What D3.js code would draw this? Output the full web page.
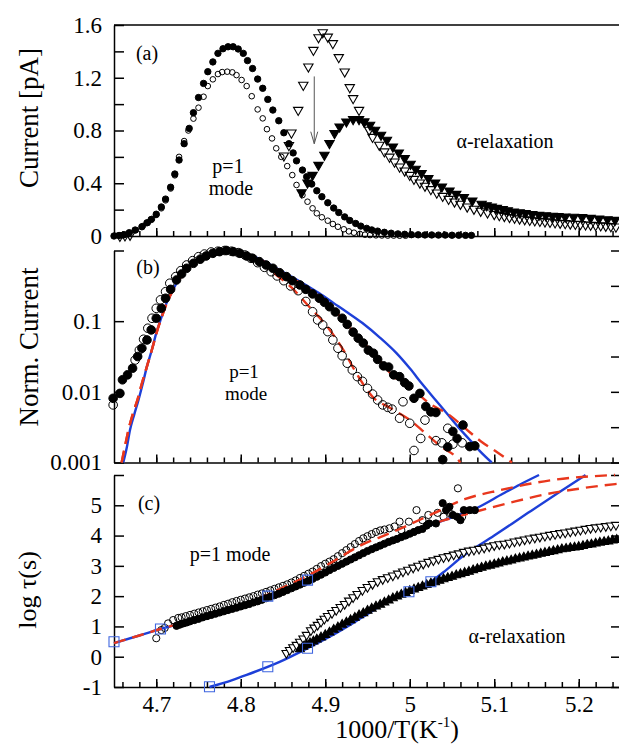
<!DOCTYPE html>
<html>
<head>
<meta charset="utf-8">
<script src="https://cdnjs.cloudflare.com/ajax/libs/d3/7.8.5/d3.min.js"></script>
<style>
  body { margin: 0; background: #fff; }
  text { font-family: "Liberation Serif", "Times New Roman", serif; fill: #000; }
</style>
</head>
<body>
<div id="chart"></div>
<script>
// shared x axis: 1000/T
var xTicks = [4.7, 4.8, 4.9, 5.0, 5.1, 5.2];
var xTickLabels = ["4.7", "4.8", "4.9", "5", "5.1", "5.2"];

// ---- panel (a): current [pA] ----
var aTicks = [0, 0.2, 0.4, 0.6, 0.8, 1.0, 1.2, 1.4, 1.6];
var aTickLabels = ["0", "", "0.4", "", "0.8", "", "1.2", "", "1.6"];

var aFilledCircles = [[4.650,0.000],[4.656,0.004],[4.662,0.010],[4.668,0.025],[4.675,0.045],[4.683,0.070],[4.689,0.100],[4.694,0.125],[4.700,0.165],[4.706,0.220],[4.711,0.280],[4.717,0.370],[4.722,0.470],[4.727,0.576],[4.733,0.700],[4.739,0.816],[4.744,0.935],[4.750,1.050],[4.756,1.157],[4.761,1.246],[4.767,1.320],[4.773,1.385],[4.779,1.420],[4.785,1.435],[4.791,1.435],[4.797,1.418],[4.803,1.385],[4.808,1.330],[4.814,1.270],[4.820,1.190],[4.826,1.120],[4.832,1.036],[4.838,0.955],[4.845,0.874],[4.851,0.783],[4.857,0.700],[4.862,0.630],[4.866,0.570],[4.873,0.500],[4.878,0.450],[4.884,0.394],[4.890,0.343],[4.896,0.298],[4.903,0.252],[4.910,0.212],[4.916,0.178],[4.923,0.145],[4.929,0.118],[4.936,0.095],[4.942,0.075],[4.949,0.058],[4.955,0.046],[4.962,0.037],[4.970,0.028],[4.978,0.021],[4.986,0.016],[4.994,0.013],[5.002,0.010],[5.010,0.009],[5.018,0.008],[5.026,0.008],[5.034,0.007],[5.042,0.007],[5.050,0.006],[5.058,0.006],[5.066,0.005],[5.073,0.005]];

var aOpenCircles = [[4.660,0.005],[4.668,0.020],[4.676,0.045],[4.684,0.075],[4.690,0.100],[4.695,0.130],[4.700,0.160],[4.706,0.210],[4.711,0.270],[4.717,0.360],[4.722,0.460],[4.727,0.600],[4.733,0.720],[4.738,0.800],[4.744,0.890],[4.750,0.973],[4.756,1.056],[4.761,1.137],[4.767,1.188],[4.773,1.228],[4.778,1.243],[4.784,1.246],[4.790,1.241],[4.795,1.220],[4.801,1.183],[4.807,1.137],[4.813,1.060],[4.820,0.960],[4.826,0.892],[4.831,0.810],[4.837,0.740],[4.842,0.665],[4.848,0.600],[4.855,0.530],[4.861,0.462],[4.866,0.387],[4.873,0.310],[4.879,0.260],[4.885,0.210],[4.890,0.172],[4.896,0.142],[4.903,0.116],[4.909,0.091],[4.915,0.070],[4.922,0.051],[4.928,0.035],[4.934,0.025],[4.941,0.016],[4.947,0.010],[4.953,0.007],[4.960,0.005],[4.967,0.004],[4.974,0.003],[4.981,0.003],[4.988,0.002],[4.995,0.002]];

var aOpenTriangles = [[4.657,0.000],[4.663,0.003],[4.669,0.008],[4.851,0.609],[4.857,0.688],[4.860,0.783],[4.868,0.955],[4.874,1.145],[4.880,1.284],[4.886,1.410],[4.892,1.506],[4.897,1.544],[4.903,1.510],[4.909,1.461],[4.916,1.355],[4.923,1.246],[4.929,1.127],[4.933,1.044],[4.940,0.955],[4.946,0.867],[4.952,0.804],[4.956,0.750],[4.964,0.690],[4.970,0.640],[4.976,0.600],[4.982,0.563],[4.988,0.525],[4.994,0.495],[5.000,0.462],[5.005,0.432],[5.012,0.404],[5.018,0.380],[5.025,0.354],[5.032,0.328],[5.039,0.303],[5.046,0.280],[5.053,0.260],[5.060,0.243],[5.068,0.222],[5.076,0.205],[5.084,0.190],[5.092,0.177],[5.100,0.165],[5.106,0.157],[5.112,0.150],[5.118,0.143],[5.124,0.137],[5.130,0.131],[5.136,0.126],[5.142,0.121],[5.148,0.117],[5.154,0.113],[5.160,0.109],[5.166,0.106],[5.172,0.102],[5.178,0.099],[5.184,0.096],[5.190,0.093],[5.196,0.091],[5.202,0.089],[5.208,0.086],[5.214,0.084],[5.220,0.081],[5.226,0.079],[5.232,0.076],[5.238,0.073],[5.244,0.070]];

var aFilledTriangles = [[4.872,0.330],[4.879,0.404],[4.885,0.462],[4.892,0.538],[4.899,0.614],[4.905,0.703],[4.911,0.779],[4.917,0.829],[4.925,0.867],[4.933,0.885],[4.940,0.885],[4.946,0.867],[4.953,0.842],[4.959,0.804],[4.966,0.766],[4.973,0.728],[4.980,0.677],[4.987,0.632],[4.994,0.589],[5.001,0.546],[5.007,0.508],[5.014,0.475],[5.022,0.437],[5.030,0.404],[5.038,0.374],[5.047,0.343],[5.055,0.318],[5.064,0.293],[5.074,0.268],[5.085,0.243],[5.091,0.232],[5.097,0.222],[5.103,0.212],[5.110,0.202],[5.116,0.193],[5.123,0.184],[5.130,0.178],[5.137,0.172],[5.145,0.165],[5.153,0.159],[5.161,0.155],[5.169,0.152],[5.176,0.149],[5.184,0.146],[5.194,0.144],[5.204,0.142],[5.214,0.136],[5.224,0.131],[5.234,0.126],[5.243,0.121]];

// arrow between the two alpha peaks (x, current)
var aArrow = [[4.887, 1.21], [4.887, 0.70]];

// ---- panel (b): normalised current (log) ----
var bTicks = [0.001, 0.01, 0.1, 1];
var bTickLabels = ["0.001", "0.01", "0.1", ""];
var bRightTicks = [0.001, 0.00316, 0.01, 0.0316, 0.1, 0.316, 1];

var bFilledCircles = [[4.649,0.0081],[4.657,0.0095],[4.660,0.0148],[4.666,0.0174],[4.672,0.0216],[4.678,0.0316],[4.683,0.0414],[4.689,0.0542],[4.694,0.0752],[4.700,0.110],[4.706,0.152],[4.711,0.211],[4.717,0.282],[4.724,0.383],[4.730,0.466],[4.736,0.560],[4.744,0.659],[4.752,0.752],[4.759,0.836],[4.767,0.912],[4.775,0.964],[4.783,1.0],[4.791,0.964],[4.799,0.912],[4.807,0.836],[4.814,0.776],[4.822,0.695],[4.830,0.624],[4.838,0.560],[4.846,0.485],[4.854,0.427],[4.861,0.374],[4.870,0.325],[4.877,0.282],[4.885,0.243],[4.893,0.211],[4.899,0.185],[4.905,0.160],[4.912,0.135],[4.920,0.110],[4.926,0.090],[4.933,0.0700],[4.939,0.0575],[4.945,0.049],[4.951,0.0389],[4.957,0.0352],[4.962,0.0288],[4.969,0.0233],[4.975,0.0224],[4.981,0.0174],[4.988,0.0164],[4.994,0.0135],[4.999,0.0121],[5.005,0.0081],[5.012,0.0095],[5.019,0.0062],[5.025,0.0052],[5.031,0.0051],[5.039,0.0011],[5.045,0.00166],[5.051,0.00275],[5.056,0.00219],[5.063,0.00339],[5.071,0.00168],[5.077,0.00172]];

var bOpenCircles = [[4.649,0.00653],[4.675,0.0282],[4.680,0.0389],[4.685,0.0555],[4.690,0.0794],[4.695,0.110],[4.700,0.152],[4.705,0.200],[4.711,0.261],[4.716,0.344],[4.723,0.427],[4.729,0.518],[4.736,0.624],[4.743,0.718],[4.750,0.817],[4.757,0.891],[4.765,0.953],[4.773,0.977],[4.781,1.0],[4.789,0.977],[4.797,0.933],[4.805,0.863],[4.812,0.776],[4.820,0.673],[4.828,0.578],[4.836,0.501],[4.843,0.437],[4.851,0.374],[4.859,0.315],[4.868,0.270],[4.877,0.190],[4.885,0.136],[4.891,0.104],[4.897,0.0883],[4.903,0.0711],[4.909,0.0542],[4.915,0.0414],[4.920,0.0324],[4.926,0.0254],[4.932,0.0204],[4.938,0.0164],[4.944,0.0141],[4.950,0.0112],[4.956,0.0093],[4.962,0.00767],[4.968,0.00653],[4.974,0.00603],[4.979,0.00569],[4.988,0.00423],[4.992,0.00724],[5.000,0.00359],[5.005,0.00148],[5.013,0.00219],[5.018,0.00398],[5.031,0.00204],[5.038,0.0019],[5.045,0.00305],[5.051,0.00182],[5.062,0.0019]];

var bBlueFit = [[4.661,0.001],[4.665,0.0016],[4.669,0.0029],[4.674,0.0048],[4.679,0.0077],[4.684,0.0130],[4.689,0.0229],[4.695,0.040],[4.700,0.0676],[4.706,0.112],[4.712,0.179],[4.718,0.25],[4.724,0.344],[4.732,0.47],[4.740,0.59],[4.750,0.75],[4.759,0.863],[4.770,0.96],[4.780,1.0],[4.790,0.99],[4.800,0.94],[4.820,0.78],[4.846,0.53],[4.870,0.365],[4.893,0.248],[4.910,0.180],[4.925,0.136],[4.944,0.094],[4.965,0.058],[4.984,0.0355],[5.000,0.0215],[5.015,0.0128],[5.030,0.0078],[5.043,0.0051],[5.058,0.0031],[5.071,0.0021],[5.083,0.00145],[5.097,0.001]];

var bRedFitFilled = [[4.659,0.001],[4.663,0.0017],[4.668,0.0032],[4.673,0.0052],[4.678,0.0079],[4.683,0.0132],[4.689,0.0229],[4.695,0.040],[4.700,0.066],[4.706,0.11],[4.712,0.174],[4.718,0.25],[4.724,0.34],[4.732,0.47],[4.740,0.59],[4.750,0.75],[4.760,0.86],[4.770,0.96],[4.782,1.0],[4.800,0.933],[4.820,0.776],[4.850,0.48],[4.880,0.29],[4.910,0.145],[4.940,0.058],[4.960,0.032],[4.981,0.0164],[5.004,0.0107],[5.023,0.0069],[5.047,0.00468],[5.070,0.00275],[5.084,0.002],[5.103,0.00141],[5.121,0.001]];

var bRedFitOpen = [[4.659,0.001],[4.663,0.0017],[4.668,0.0032],[4.673,0.0052],[4.678,0.0079],[4.683,0.0132],[4.689,0.0229],[4.695,0.040],[4.700,0.066],[4.706,0.11],[4.712,0.174],[4.718,0.25],[4.724,0.34],[4.732,0.47],[4.740,0.59],[4.750,0.75],[4.760,0.86],[4.770,0.96],[4.782,1.0],[4.800,0.92],[4.820,0.70],[4.840,0.47],[4.860,0.30],[4.880,0.165],[4.902,0.085],[4.921,0.0398],[4.937,0.0182],[4.956,0.0085],[4.977,0.0059],[5.000,0.004],[5.019,0.00257],[5.037,0.00168],[5.056,0.00115],[5.060,0.001]];

// ---- panel (c): log tau(s) ----
var cTicks = [-1, 0, 1, 2, 3, 4, 5, 6];
var cTickLabels = ["-1", "0", "1", "2", "3", "4", "5", ""];

var cOpenCircles = [[4.700,0.61],[4.706,0.88],[4.710,0.95],[4.714,1.10],[4.720,1.21],[4.726,1.28],[4.730,1.30],[4.735,1.34],[4.740,1.38],[4.745,1.42],[4.750,1.46],[4.755,1.50],[4.760,1.54],[4.765,1.58],[4.770,1.62],[4.775,1.66],[4.780,1.71],[4.785,1.75],[4.790,1.80],[4.795,1.84],[4.800,1.88],[4.805,1.92],[4.810,1.96],[4.815,2.00],[4.820,2.05],[4.825,2.09],[4.830,2.14],[4.835,2.19],[4.840,2.24],[4.845,2.29],[4.850,2.34],[4.855,2.39],[4.860,2.45],[4.865,2.52],[4.870,2.60],[4.875,2.67],[4.880,2.74],[4.885,2.81],[4.890,2.90],[4.895,2.99],[4.900,3.07],[4.905,3.14],[4.910,3.22],[4.915,3.32],[4.920,3.42],[4.925,3.52],[4.930,3.62],[4.935,3.72],[4.940,3.82],[4.945,3.91],[4.950,3.98],[4.955,4.05],[4.960,4.12],[4.965,4.17],[4.970,4.20],[4.976,4.24],[4.982,4.30],[4.988,4.46],[4.990,4.18],[4.999,4.46],[5.008,4.84],[5.015,4.51],[5.022,4.68],[5.033,4.75],[5.040,4.62],[5.049,4.71],[5.057,5.56],[5.062,4.62]];

var cFilledCircles = [[4.724,1.02],[4.728,1.06],[4.732,1.10],[4.736,1.13],[4.740,1.17],[4.745,1.21],[4.750,1.25],[4.755,1.30],[4.760,1.34],[4.765,1.38],[4.770,1.42],[4.775,1.46],[4.780,1.50],[4.785,1.54],[4.790,1.58],[4.795,1.62],[4.800,1.66],[4.805,1.70],[4.810,1.74],[4.815,1.79],[4.820,1.83],[4.825,1.88],[4.830,1.93],[4.835,1.98],[4.840,2.03],[4.845,2.08],[4.850,2.14],[4.855,2.20],[4.860,2.26],[4.865,2.32],[4.870,2.38],[4.875,2.44],[4.880,2.50],[4.885,2.57],[4.890,2.64],[4.895,2.71],[4.900,2.78],[4.905,2.86],[4.910,2.93],[4.915,3.00],[4.920,3.07],[4.925,3.14],[4.930,3.21],[4.935,3.28],[4.940,3.35],[4.945,3.42],[4.950,3.49],[4.955,3.55],[4.960,3.61],[4.965,3.67],[4.970,3.73],[4.975,3.79],[4.980,3.84],[4.985,3.89],[4.990,3.95],[4.995,4.00],[5.000,4.06],[5.005,4.12],[5.010,4.18],[5.015,4.22],[5.020,4.33],[5.023,4.40],[5.031,4.40],[5.039,5.07],[5.043,4.84],[5.047,4.95],[5.051,4.68],[5.056,4.62],[5.060,4.51],[5.064,4.84],[5.071,4.84],[5.077,4.84]];

var cOpenTriangles = [[4.854,0.12],[4.858,0.22],[4.862,0.31],[4.866,0.39],[4.870,0.49],[4.874,0.60],[4.878,0.72],[4.883,0.87],[4.887,0.96],[4.891,1.05],[4.895,1.15],[4.899,1.25],[4.903,1.34],[4.908,1.44],[4.913,1.54],[4.918,1.64],[4.923,1.74],[4.928,1.85],[4.933,1.96],[4.938,2.07],[4.944,2.20],[4.950,2.30],[4.956,2.40],[4.962,2.49],[4.968,2.56],[4.974,2.62],[4.980,2.68],[4.986,2.74],[4.992,2.81],[4.998,2.87],[5.004,2.94],[5.010,3.00],[5.016,3.07],[5.022,3.13],[5.028,3.18],[5.034,3.23],[5.040,3.28],[5.046,3.32],[5.052,3.37],[5.058,3.41],[5.064,3.46],[5.070,3.50],[5.076,3.53],[5.082,3.56],[5.088,3.60],[5.094,3.64],[5.100,3.68],[5.106,3.71],[5.112,3.73],[5.118,3.76],[5.124,3.80],[5.130,3.83],[5.136,3.87],[5.142,3.90],[5.148,3.93],[5.154,3.96],[5.160,3.99],[5.166,4.02],[5.172,4.05],[5.178,4.08],[5.184,4.10],[5.190,4.13],[5.196,4.16],[5.202,4.19],[5.208,4.22],[5.214,4.25],[5.220,4.27],[5.226,4.29],[5.232,4.31],[5.238,4.33],[5.244,4.35]];

var cFilledTriangles = [[4.870,0.25],[4.874,0.33],[4.878,0.39],[4.882,0.45],[4.886,0.51],[4.890,0.57],[4.895,0.64],[4.900,0.72],[4.905,0.80],[4.910,0.89],[4.915,0.97],[4.920,1.06],[4.925,1.13],[4.930,1.21],[4.935,1.29],[4.940,1.37],[4.945,1.44],[4.950,1.52],[4.955,1.59],[4.960,1.66],[4.965,1.72],[4.970,1.79],[4.975,1.86],[4.980,1.93],[4.985,1.99],[4.990,2.05],[4.995,2.11],[5.000,2.17],[5.005,2.22],[5.010,2.27],[5.015,2.32],[5.020,2.37],[5.025,2.42],[5.030,2.46],[5.035,2.51],[5.040,2.56],[5.045,2.60],[5.050,2.64],[5.055,2.69],[5.060,2.73],[5.065,2.77],[5.070,2.81],[5.075,2.86],[5.080,2.90],[5.085,2.94],[5.090,2.98],[5.095,3.01],[5.100,3.05],[5.105,3.08],[5.110,3.12],[5.115,3.15],[5.120,3.18],[5.125,3.22],[5.130,3.25],[5.135,3.28],[5.140,3.31],[5.145,3.34],[5.150,3.37],[5.155,3.40],[5.160,3.43],[5.165,3.46],[5.170,3.49],[5.175,3.52],[5.180,3.55],[5.185,3.57],[5.190,3.59],[5.195,3.61],[5.200,3.63],[5.205,3.66],[5.210,3.69],[5.215,3.71],[5.220,3.74],[5.225,3.77],[5.230,3.79],[5.235,3.81],[5.240,3.84],[5.245,3.86]];

var cSquaresUpper = [[4.650,0.495],[4.705,0.915],[4.832,2.00],[4.879,2.53]];
var cSquaresLower = [[4.763,-0.99],[4.832,-0.33],[4.879,0.28],[4.999,2.145],[5.025,2.475]];

var cBlueUpper = [[4.650,0.45],[4.680,0.70],[4.705,0.915],[4.740,1.18],[4.780,1.50],[4.832,1.98],[4.879,2.50],[4.920,3.05],[4.960,3.58],[5.000,4.06],[5.040,4.50],[5.080,4.92],[5.110,5.38],[5.130,5.68],[5.153,6.00]];
var cBlueLower = [[4.763,-1.00],[4.790,-0.77],[4.807,-0.60],[4.846,-0.17],[4.879,0.28],[4.909,0.72],[4.944,1.30],[4.984,1.98],[5.000,2.14],[5.025,2.48],[5.043,2.86],[5.062,3.30],[5.100,4.00],[5.140,4.75],[5.175,5.40],[5.208,6.00]];
var cRedUpper = [[4.650,0.45],[4.680,0.70],[4.705,0.915],[4.740,1.18],[4.780,1.50],[4.832,2.05],[4.855,2.35],[4.881,2.70],[4.909,3.14],[4.940,3.65],[4.981,4.13],[5.028,4.73],[5.065,5.20],[5.107,5.50],[5.168,5.83],[5.243,6.00]];
var cRedLower = [[4.950,3.50],[5.000,4.06],[5.040,4.50],[5.060,4.65],[5.082,4.82],[5.118,5.08],[5.157,5.34],[5.196,5.53],[5.243,5.70],[5.250,5.72]];

// ------------------------------------------------------------
var svgWidth = 619;
var svgHeight = 745;
var fontFamily = '"Liberation Serif", "Times New Roman", serif';
var blue = "#1d3fd8";
var red = "#e8371d";

var svg = d3.select("#chart")
  .append("svg")
  .attr("width", svgWidth)
  .attr("height", svgHeight);

var x = d3.scaleLinear().domain([4.65, 5.25]).range([114, 621]);
var yA = d3.scaleLinear().domain([0, 1.6]).range([236, 25]);
var yB = d3.scaleLog().domain([0.001, 1]).range([462.5, 250.5]);
var yC = d3.scaleLinear().domain([-1, 6]).range([687, 475]);

// axes helper: inward ticks, minor and major on the x axis
function drawXAxis(yPos, withLabels) {
  var minor = svg.append("g")
    .attr("transform", `translate(0, ${yPos})`)
    .call(d3.axisBottom(x).ticks(30).tickSize(-5).tickSizeOuter(0).tickFormat(""));
  var major = svg.append("g")
    .attr("transform", `translate(0, ${yPos})`)
    .call(d3.axisBottom(x).tickValues(xTicks).tickSize(-8).tickSizeOuter(0).tickPadding(9)
      .tickFormat((d, i) => withLabels ? xTickLabels[i] : ""));
  major.select(".domain").remove();
  [minor, major].forEach(function(g) {
    g.attr("font-family", fontFamily).attr("font-size", 23);
    g.selectAll("path, line").attr("stroke", "#000").attr("stroke-width", 1.5);
    g.selectAll("text").attr("fill", "#000");
  });
}

function drawYAxis(scale, values, labels, rightValues) {
  var left = svg.append("g")
    .attr("transform", `translate(${x.range()[0]}, 0)`)
    .call(d3.axisLeft(scale).tickValues(values).tickSize(-10).tickSizeOuter(0).tickPadding(12)
      .tickFormat((d, i) => labels[i]));
  left.attr("font-family", fontFamily).attr("font-size", 23);
  left.selectAll("path, line").attr("stroke", "#000").attr("stroke-width", 1.5);
  left.selectAll("text").attr("fill", "#000");
  if (rightValues) {
    var right = svg.append("g")
      .attr("transform", `translate(${x.range()[1]}, 0)`)
      .call(d3.axisRight(scale).tickValues(rightValues).tickSize(-10).tickSizeOuter(0).tickFormat(""));
    right.selectAll("path, line").attr("stroke", "#000").attr("stroke-width", 1.5);
  }
}

function yTitle(label, cx, cy, size) {
  svg.append("text")
    .attr("transform", `translate(${cx}, ${cy}) rotate(-90)`)
    .attr("text-anchor", "middle")
    .attr("dy", "0.35em")
    .attr("font-size", size)
    .text(label);
}

function note(label, px, py, size) {
  svg.append("text")
    .attr("x", px).attr("y", py)
    .attr("text-anchor", "middle")
    .attr("font-size", size || 20)
    .text(label);
}

function circles(data, yScale, r, filled) {
  svg.append("g").selectAll("circle")
    .data(data)
    .enter()
    .append("circle")
    .attr("cx", d => x(d[0]))
    .attr("cy", d => yScale(d[1]))
    .attr("r", r)
    .attr("fill", filled ? "#000" : "none")
    .attr("stroke", "#000")
    .attr("stroke-width", 1);
}

function symbols(data, yScale, type, size, fill, stroke, angle) {
  var sym = d3.symbol().type(type).size(size);
  svg.append("g").selectAll("path")
    .data(data)
    .enter()
    .append("path")
    .attr("d", sym)
    .attr("transform", d => `translate(${x(d[0])}, ${yScale(d[1])}) rotate(${angle || 0})`)
    .attr("fill", fill)
    .attr("stroke", stroke)
    .attr("stroke-width", 1.1);
}

function curve(data, yScale, color, dashed) {
  var line = d3.line()
    .x(d => x(d[0]))
    .y(d => yScale(d[1]))
    .curve(d3.curveMonotoneX);
  svg.append("path")
    .datum(data)
    .attr("d", line)
    .attr("fill", "none")
    .attr("stroke", color)
    .attr("stroke-width", 2.4)
    .attr("stroke-dasharray", dashed ? "12,7" : null);
}

// ---------------- panel (a) ----------------
drawXAxis(yA(0), false);
drawYAxis(yA, aTicks, aTickLabels, null);
svg.append("line")
  .attr("x1", x.range()[0]).attr("x2", x.range()[1])
  .attr("y1", yA(1.6)).attr("y2", yA(1.6))
  .attr("stroke", "#000").attr("stroke-width", 1.5);

symbols(aFilledTriangles, yA, d3.symbolTriangle, 38, "#000", "#000", 180);
symbols(aOpenTriangles, yA, d3.symbolTriangle, 38, "none", "#000", 180);
circles(aOpenCircles, yA, 2.8, false);
circles(aFilledCircles, yA, 3.2, true);

// arrow
svg.append("line")
  .attr("x1", x(aArrow[0][0])).attr("x2", x(aArrow[1][0]))
  .attr("y1", yA(aArrow[0][1])).attr("y2", yA(aArrow[1][1]))
  .attr("stroke", "#555").attr("stroke-width", 1);
svg.append("path")
  .attr("d", `M${x(aArrow[1][0]) - 3.5},${yA(aArrow[1][1]) - 12} L${x(aArrow[1][0])},${yA(aArrow[1][1])} L${x(aArrow[1][0]) + 3.5},${yA(aArrow[1][1]) - 12}`)
  .attr("fill", "none").attr("stroke", "#555").attr("stroke-width", 1);

note("(a)", 147, 60, 20);
note("p=1", 228, 173, 20);
note("mode", 231, 195, 20);
note("α-relaxation", 505, 148, 20);
yTitle("Current [pA]", 29, 118, 27);

// ---------------- panel (b) ----------------
drawXAxis(yB(0.001), false);
drawYAxis(yB, bTicks, bTickLabels, bRightTicks);

curve(bBlueFit, yB, blue, false);
curve(bRedFitFilled, yB, red, true);
curve(bRedFitOpen, yB, red, true);
circles(bOpenCircles, yB, 4.3, false);
circles(bFilledCircles, yB, 4.3, true);

note("(b)", 148, 274, 20);
note("p=1", 244, 378, 19);
note("mode", 246, 400, 19);
yTitle("Norm. Current", 29, 347, 27);

// ---------------- panel (c) ----------------
drawXAxis(yC(-1), true);
drawYAxis(yC, cTicks, cTickLabels, cTicks);

circles(cOpenCircles, yC, 3.6, false);
curve(cBlueUpper, yC, blue, false);
curve(cBlueLower, yC, blue, false);
curve(cRedUpper, yC, red, true);
curve(cRedLower, yC, red, true);
circles(cFilledCircles, yC, 3.6, true);
symbols(cOpenTriangles, yC, d3.symbolTriangle, 34, "#fff", "#000", 180);
symbols(cFilledTriangles, yC, d3.symbolTriangle, 34, "#000", "#000", 0);
symbols(cSquaresUpper, yC, d3.symbolSquare, 100, "none", "#3f66e0", 0);
symbols(cSquaresLower, yC, d3.symbolSquare, 100, "none", "#3f66e0", 0);

note("(c)", 149, 510, 20);
note("p=1 mode", 230, 561, 20);
note("α-relaxation", 517, 643, 20);
yTitle("log τ(s)", 27, 590, 26);

// x title with superscript
var xt = svg.append("text")
  .attr("x", 397).attr("y", 738)
  .attr("text-anchor", "middle")
  .attr("font-size", 26);
xt.append("tspan").text("1000/T(K");
xt.append("tspan").attr("dy", -11).attr("font-size", 15).text("-1");
xt.append("tspan").attr("dy", 11).text(")");
</script>
</body>
</html>
